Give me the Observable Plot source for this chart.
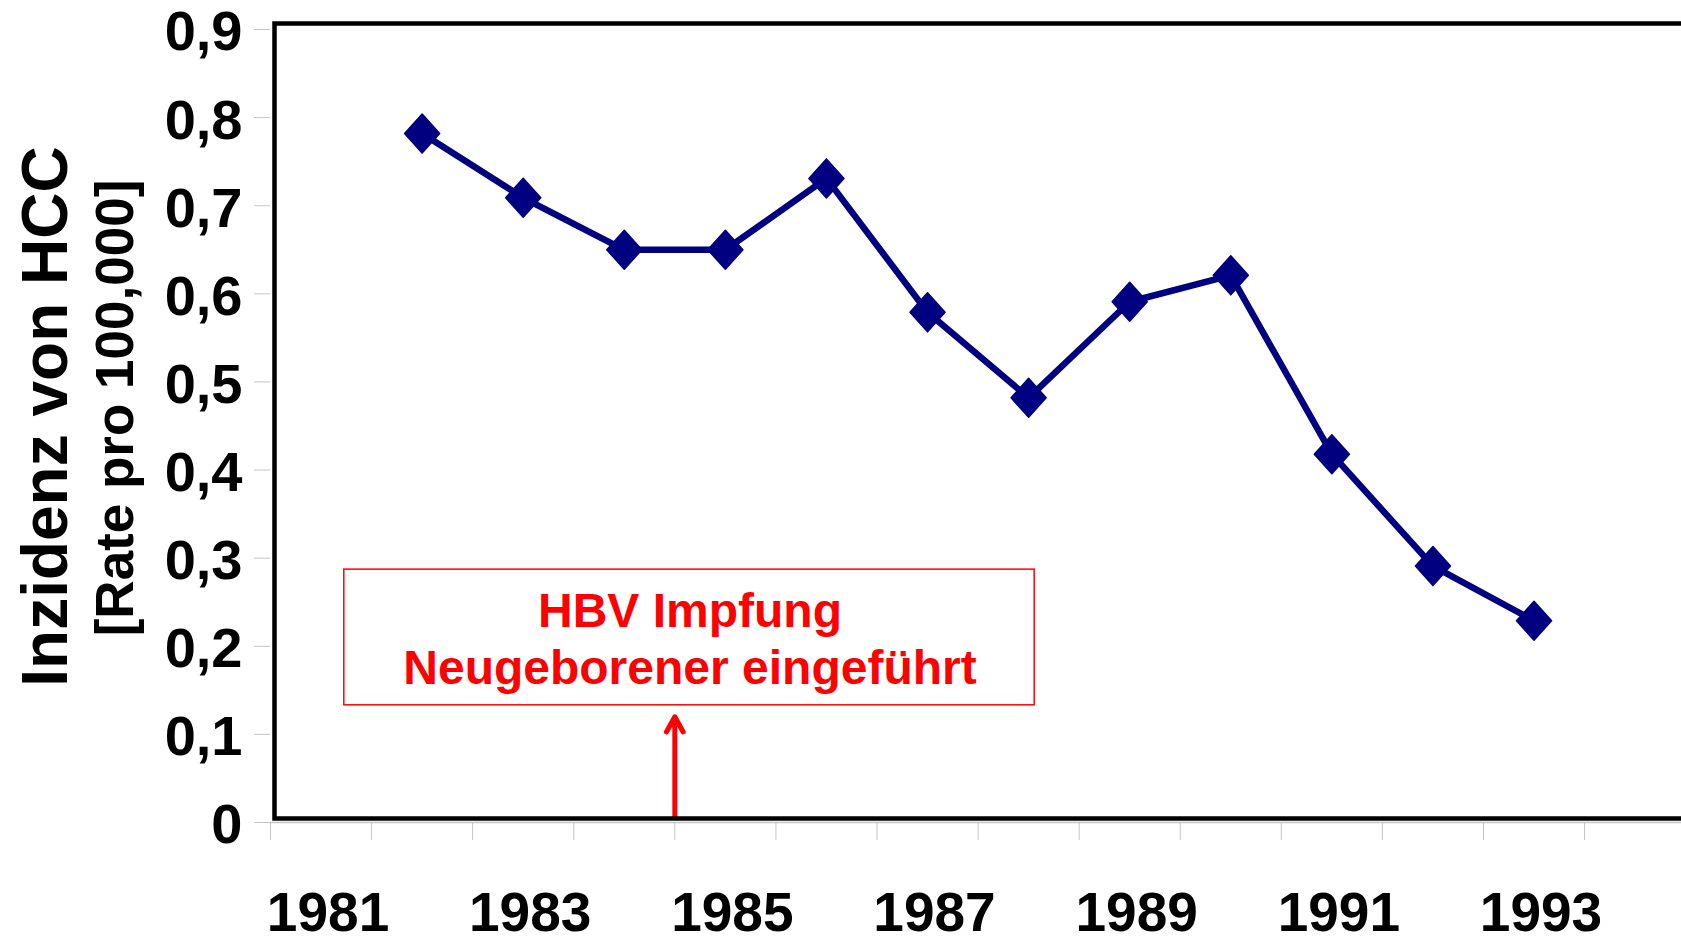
<!DOCTYPE html>
<html>
<head>
<meta charset="utf-8">
<script src="https://cdn.jsdelivr.net/npm/d3@7"></script>
<script src="https://cdn.jsdelivr.net/npm/@observablehq/plot@0.6"></script>
<style>
html, body { margin: 0; padding: 0; background: #fff; overflow: hidden; }
svg text { font-weight: bold; }
</style>
</head>
<body>
<div id="chart"></div>
<script>
// ---- data ----
const years = [1982, 1983, 1984, 1985, 1986, 1987, 1988, 1989, 1990, 1991, 1992, 1993];
const incidence = [0.782, 0.709, 0.650, 0.650, 0.731, 0.579, 0.482, 0.591, 0.621, 0.418, 0.291, 0.229];
const yTicks = [0, 0.1, 0.2, 0.3, 0.4, 0.5, 0.6, 0.7, 0.8, 0.9];
const xLabelYears = [1981, 1983, 1985, 1987, 1989, 1991, 1993];
const yearBoundaries = [1980.5, 1981.5, 1982.5, 1983.5, 1984.5, 1985.5, 1986.5, 1987.5, 1988.5, 1989.5, 1990.5, 1991.5, 1992.5, 1993.5];
const yTitle = ["Inzidenz von HCC"];
const ySubtitle = ["[Rate pro 100,000]"];
const noteText = ["HBV Impfung\nNeugeborener eingeführt"];
const vaccinationYear = [1984.5];
const noteBox = [{x1: 1981.23, x2: 1988.06, y1: 0.133, y2: 0.287, xc: 1984.65, yc: 0.210}];
const arrowSpan = [{y1: 0.006, y2: 0.12}];

const data = years.map((year, i) => ({year, value: incidence[i]}));

const navy = "#000080";
const red = "#ff0000";
const tickGray = "#c4c4c4";

const diamond = {
  draw(ctx, size) {
    const r = Math.sqrt(size / Math.PI);
    ctx.moveTo(0, -r);
    ctx.lineTo(0.9 * r, 0);
    ctx.lineTo(0, r);
    ctx.lineTo(-0.9 * r, 0);
    ctx.closePath();
  }
};

const fmtY = d => d === 0 ? "0" : d.toFixed(1).replace(".", ",");

const chart = Plot.plot({
  width: 1681,
  height: 936,
  marginLeft: 270,
  marginRight: 0,
  marginTop: 29,
  marginBottom: 114,
  style: {fontFamily: "'Liberation Sans', Arial, sans-serif", background: "#fff", color: "#000"},
  x: {type: "linear", domain: [1980.5, 1994.459], axis: null},
  y: {domain: [0, 0.9], axis: null},
  marks: [
    // y ticks (gray) and labels
    Plot.axisY(yTicks, {tickSize: 16, stroke: tickGray, tickFormat: () => "", label: null}),
    Plot.axisY(yTicks, {tickSize: 0, tickPadding: 28, fontSize: 56, fontWeight: "bold", tickFormat: fmtY, fill: "#000", dy: 3, label: null}),
    // x ticks at year boundaries (gray) and labels
    Plot.axisX(yearBoundaries, {tickSize: 18, stroke: tickGray, tickFormat: () => "", label: null}),
    Plot.axisX(xLabelYears, {tickSize: 0, tickPadding: 69, fontSize: 55, fontWeight: "bold", tickFormat: d => String(d), fill: "#000", dx: 7, label: null}),
    // baseline (gray)
    Plot.ruleY([0], {stroke: tickGray, strokeWidth: 1.5}),
    // annotation arrow
    Plot.arrow(vaccinationYear, {x1: d => d, x2: d => d, y1: arrowSpan[0].y1, y2: arrowSpan[0].y2, stroke: red, strokeWidth: 5, headLength: 5.2, headAngle: 58}),
    // plot frame
    Plot.frame({stroke: "#000", strokeWidth: 4.5, insetLeft: 4, insetTop: -6, insetBottom: 4, insetRight: -10}),
    // annotation box
    Plot.rect(noteBox, {x1: "x1", x2: "x2", y1: "y1", y2: "y2", fill: "none", stroke: red, strokeWidth: 1.5}),
    Plot.text(noteText, {x: noteBox[0].xc, y: noteBox[0].yc, text: d => d, fill: red, fontSize: 48, fontWeight: "bold", lineHeight: 1.18, textAnchor: "middle"}),
    // data line and diamond markers
    Plot.line(data, {x: "year", y: "value", stroke: navy, strokeWidth: 6.5}),
    Plot.dot(data, {x: "year", y: "value", r: 19.5, symbol: diamond, fill: navy, stroke: navy, strokeWidth: 1.5, strokeLinejoin: "round"}),
    // y axis titles
    Plot.text(yTitle, {frameAnchor: "left", text: d => d, rotate: -90, fontSize: 64, fontWeight: "bold", textAnchor: "middle", dx: -224, dy: -9.5, fill: "#000"}),
    Plot.text(ySubtitle, {frameAnchor: "left", text: d => d, rotate: -90, fontSize: 53, fontWeight: "bold", textAnchor: "middle", dx: -154, dy: -18, fill: "#000"})
  ]
});

document.getElementById("chart").appendChild(chart);
</script>
</body>
</html>
